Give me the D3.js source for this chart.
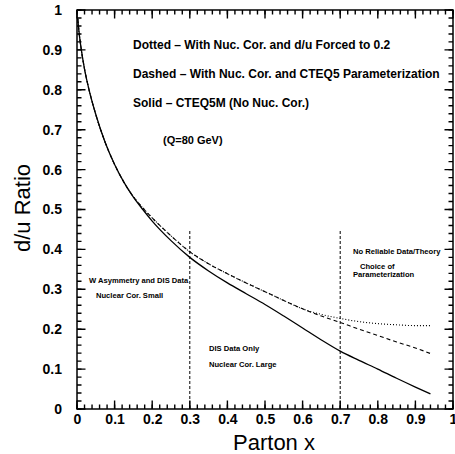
<!DOCTYPE html>
<html><head><meta charset="utf-8">
<script src="https://cdn.jsdelivr.net/npm/d3@7"></script>
<style>
body{margin:0;background:#fff;}
svg{display:block;}
text{font-family:"Liberation Sans",Arial,sans-serif;fill:#000;}
</style></head>
<body>
<script>
// ---- data ----
const xGrid   = [0.002,0.005,0.01,0.02,0.03,0.05,0.075,0.1,0.125,0.15,0.175,0.2,0.25,0.3,0.35,0.4,0.45,0.5,0.55,0.6,0.65,0.7,0.75,0.8,0.85,0.9,0.94];
const solid   = [0.978,0.948,0.91,0.852,0.808,0.738,0.668,0.613,0.568,0.531,0.500,0.471,0.422,0.380,0.346,0.316,0.289,0.262,0.233,0.203,0.173,0.145,0.122,0.100,0.077,0.055,0.038];
const dashed  = [0.978,0.948,0.91,0.852,0.808,0.738,0.668,0.613,0.568,0.532,0.504,0.479,0.434,0.394,0.364,0.339,0.316,0.294,0.272,0.251,0.233,0.217,0.200,0.184,0.168,0.153,0.139];
const dotted  = [0.978,0.948,0.91,0.852,0.808,0.738,0.668,0.613,0.568,0.532,0.504,0.479,0.434,0.394,0.364,0.339,0.316,0.294,0.272,0.251,0.237,0.227,0.219,0.214,0.211,0.209,0.209];
const xTicks  = [0,0.1,0.2,0.3,0.4,0.5,0.6,0.7,0.8,0.9,1];
const yTicks  = [0,0.1,0.2,0.3,0.4,0.5,0.6,0.7,0.8,0.9,1];
const xTickLabels = ["0","0.1","0.2","0.3","0.4","0.5","0.6","0.7","0.8","0.9","1"];
const yTickLabels = ["0","0.1","0.2","0.3","0.4","0.5","0.6","0.7","0.8","0.9","1"];
const regionLines = [0.3,0.7];
const regionTop = 0.45;
const legendLines = ["Dotted \u2013 With Nuc. Cor. and d/u Forced to 0.2",
                     "Dashed \u2013 With Nuc. Cor. and CTEQ5 Parameterization",
                     "Solid \u2013 CTEQ5M (No Nuc. Cor.)"];
const qLabel = "(Q=80 GeV)";

const W=455,H=454;
const m={l:77,r:2,t:10,b:45};
const svg=d3.select("body").append("svg").attr("width",W).attr("height",H);
const x=d3.scaleLinear().domain([0,1]).range([m.l,W-m.r]);
const y=d3.scaleLinear().domain([0,1]).range([H-m.b,m.t]);

// ticks as one path on all four sides, pointing inward
const minor=d3.range(0,51).map(i=>i/50);
function tickPath(vals,len){
  const p=d3.path();
  vals.forEach(v=>{
    p.moveTo(x(v),y(0)); p.lineTo(x(v),y(0)-len);
    p.moveTo(x(v),y(1)); p.lineTo(x(v),y(1)+len);
    p.moveTo(x(0),y(v)); p.lineTo(x(0)+len,y(v));
    p.moveTo(x(1),y(v)); p.lineTo(x(1)-len,y(v));
  });
  return p.toString();
}
svg.append("path").attr("d",tickPath(minor,4.5)).attr("fill","none").attr("stroke","#000").attr("stroke-width",1.4);
svg.append("path").attr("d",tickPath(xTicks,8.5)).attr("fill","none").attr("stroke","#000").attr("stroke-width",1.4);

// tick labels via axes (no tick lines)
const xb=svg.append("g").attr("transform",`translate(0,${y(0)})`)
  .call(d3.axisBottom(x).tickValues(xTicks).tickSize(0).tickPadding(5).tickFormat((d,i)=>xTickLabels[i]));
const yl=svg.append("g").attr("transform",`translate(${x(0)},0)`)
  .call(d3.axisLeft(y).tickValues(yTicks).tickSize(0).tickPadding(15).tickFormat((d,i)=>yTickLabels[i]));
[xb,yl].forEach(g=>{g.select(".domain").remove();
  g.selectAll("text").attr("font-size",14).attr("font-family","'DejaVu Sans',sans-serif").attr("font-weight","bold").attr("fill","#000");});

// frame
svg.append("rect").attr("x",x(0)).attr("y",y(1)).attr("width",x(1)-x(0)).attr("height",y(0)-y(1))
  .attr("fill","none").attr("stroke","#000").attr("stroke-width",1.5);

// region lines
regionLines.forEach(v=>{
  svg.append("line").attr("x1",x(v)).attr("x2",x(v)).attr("y1",y(0)).attr("y2",y(regionTop))
   .attr("stroke","#000").attr("stroke-width",1).attr("stroke-dasharray","3,2");
});

// curves
const line=d3.line().x(d=>x(d[0])).y(d=>y(d[1])).curve(d3.curveMonotoneX);
function draw(vals,dash,w){
  svg.append("path").datum(xGrid.map((xv,i)=>[xv,vals[i]])).attr("d",line)
    .attr("fill","none").attr("stroke","#000").attr("stroke-width",w).attr("stroke-dasharray",dash);
}
draw(dotted,"1,2",1.1);
draw(dashed,"4,3",1.1);
draw(solid,null,1.3);

// titles
svg.append("text").attr("x",274).attr("y",450).attr("text-anchor","middle").attr("font-size",22)
  .attr("font-family","'DejaVu Sans',sans-serif").text("Parton x");
svg.append("text").attr("transform","translate(30,208) rotate(-90)").attr("text-anchor","middle").attr("font-size",22)
  .attr("font-family","'DejaVu Sans',sans-serif").text("d/u Ratio");

// legend text
const legY=[49,78,107];
legendLines.forEach((t,i)=>svg.append("text").attr("x",133).attr("y",legY[i]).attr("font-size",12)
  .attr("font-weight","bold").text(t));
svg.append("text").attr("x",163).attr("y",144).attr("font-size",11).attr("font-weight","bold").text(qLabel);

// region annotations
const ann=[
 ["W Asymmetry and DIS Data",89,283],
 ["Nuclear Cor. Small",96,298],
 ["DIS Data Only",209,351],
 ["Nuclear Cor. Large",209,367],
 ["No Reliable Data/Theory",353,254],
 ["Choice of",360,269],
 ["Parameterization",353,277]
];
ann.forEach(a=>svg.append("text").attr("x",a[1]).attr("y",a[2]).attr("font-size",7.6).attr("font-weight","bold").text(a[0]));
</script>
</body></html>
